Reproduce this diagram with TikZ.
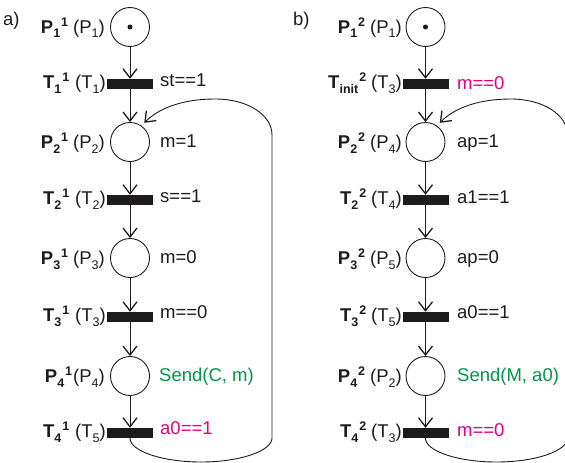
\documentclass[tikz,border=0pt]{standalone}
\usepackage{fontspec}
\setmainfont{Liberation Sans}
\usetikzlibrary{arrows.meta}
\definecolor{ink}{RGB}{30,27,28}
\definecolor{guard}{RGB}{228,0,124}
\definecolor{action}{RGB}{0,150,70}
% small lowered / raised indices placed one after the other
\newcommand\lo[1]{\raisebox{-5pt}{\fontsize{12.5}{12.5}\selectfont #1}}
\newcommand\hi[1]{\raisebox{6.5pt}{\fontsize{12.5}{12.5}\selectfont #1}}
\newcommand\sym[3]{\textbf{#1}\lo{\textbf{#2}}\hspace{1pt}\hi{\textbf{#3}}}
\newcommand\orig[2]{(#1\lo{#2})}

\begin{document}
\begin{tikzpicture}[x=1pt,y=-1pt,
  lbltext/.style={font=\fontsize{18.5}{20}\selectfont, text=ink, inner sep=0pt},
  place/.style={circle, draw=ink, line width=0.9pt, minimum size=39pt, inner sep=0pt},
  trans/.style={rectangle, fill=ink, minimum width=46pt, minimum height=10pt, inner sep=0pt},
  flow/.style={draw=ink, line width=0.9pt, -{Straight Barb[length=9pt,width=14pt,line width=1.3pt]}},
  token/.style={circle, fill=ink, minimum size=5pt, inner sep=0pt},
  tag/.style={lbltext, anchor=base east},
  note/.style={lbltext, anchor=base west},
]
\useasboundingbox (0,0) rectangle (565,463);

% ---------------- net a) ----------------
\node[lbltext, anchor=base west] (capa) at (3,25) {a)};
\node[place] (a1) at (130,27) {};
\node[token] (a1tok) at (a1) {};
\node[trans] (at1) at (130,84) {};
\node[place] (a2) at (130,142) {};
\node[trans] (at2) at (130,200) {};
\node[place] (a3) at (130,258) {};
\node[trans] (at3) at (130,317) {};
\node[place] (a4) at (130,376) {};
\node[trans] (at4) at (130,433) {};

\node[tag] (na1) at (105,33) {\sym{P}{1}{1}\hspace{5pt}\orig{P}{1}};
\node[tag] (nat1) at (106,88) {\sym{T}{1}{1}\hspace{6pt}\orig{T}{1}};
\node[tag] (na2) at (105,148) {\sym{P}{2}{1}\hspace{5pt}\orig{P}{2}};
\node[tag] (nat2) at (106,204) {\sym{T}{2}{1}\hspace{6pt}\orig{T}{2}};
\node[tag] (na3) at (105,264) {\sym{P}{3}{1}\hspace{5pt}\orig{P}{3}};
\node[tag] (nat3) at (106,321) {\sym{T}{3}{1}\hspace{6pt}\orig{T}{3}};
\node[tag] (na4) at (105,382) {\sym{P}{4}{1}\hspace{1pt}\orig{P}{4}};
\node[tag] (nat4) at (106,437) {\sym{T}{4}{1}\hspace{6pt}\orig{T}{5}};

\node[note] (ga1) at (160,86) {st==1};
\node[note] (ga2) at (160,147) {m=1};
\node[note] (ga3) at (160,202) {s==1};
\node[note] (ga4) at (160,263) {m=0};
\node[note] (ga5) at (160,318) {m==0};
\node[note, text=action] (ga6) at (159,381) {Send(C, m)};
\node[note, text=guard] (ga7) at (160,434) {a0==1};

\draw[flow] (a1) -- (at1.north);
\draw[flow] (at1.south) -- (a2);
\draw[flow] (a2) -- (at2.north);
\draw[flow] (at2.south) -- (a3);
\draw[flow] (a3) -- (at3.north);
\draw[flow] (at3.south) -- (a4);
\draw[flow] (a4) -- (at4.north);
\draw[flow, shorten >=4pt] (at4.south)
  .. controls (130,451) and (162,462) .. (201,462)
  .. controls (240,462) and (272,451) .. (272,438)
  -- (272,135)
  .. controls (272,115) and (248,99) .. (215,99)
  .. controls (185,99) and (160,107) .. (a2.55);

% ---------------- net b) ----------------
\node[lbltext, anchor=base west] (capb) at (293,25) {b)};
\node[place] (b1) at (425.5,27) {};
\node[token] (b1tok) at (b1) {};
\node[trans] (bt1) at (425.5,84) {};
\node[place] (b2) at (425.5,142) {};
\node[trans] (bt2) at (425.5,200) {};
\node[place] (b3) at (425.5,258) {};
\node[trans] (bt3) at (425.5,317) {};
\node[place] (b4) at (425.5,376) {};
\node[trans] (bt4) at (425.5,433) {};

\node[tag] (nb1) at (402,33) {\sym{P}{1}{2}\hspace{5pt}\orig{P}{1}};
\node[tag] (nbt1) at (402,88) {\sym{T}{init}{2}\hspace{5pt}\orig{T}{3}};
\node[tag] (nb2) at (402,148) {\sym{P}{2}{2}\hspace{5pt}\orig{P}{4}};
\node[tag] (nbt2) at (402,204) {\sym{T}{2}{2}\hspace{5pt}\orig{T}{4}};
\node[tag] (nb3) at (402,264) {\sym{P}{3}{2}\hspace{5pt}\orig{P}{5}};
\node[tag] (nbt3) at (402,321) {\sym{T}{3}{2}\hspace{5pt}\orig{T}{5}};
\node[tag] (nb4) at (402,382) {\sym{P}{4}{2}\hspace{5pt}\orig{P}{2}};
\node[tag] (nbt4) at (402,437) {\sym{T}{4}{2}\hspace{5pt}\orig{T}{3}};

\node[note, text=guard] (gb1) at (457,89) {m==0};
\node[note] (gb2) at (457,147) {ap=1};
\node[note] (gb3) at (457,203) {a1==1};
\node[note] (gb4) at (457,263) {ap=0};
\node[note] (gb5) at (457,318) {a0==1};
\node[note, text=action] (gb6) at (457,381) {Send(M, a0)};
\node[note, text=guard] (gb7) at (457,436) {m==0};

\draw[flow] (b1) -- (bt1.north);
\draw[flow] (bt1.south) -- (b2);
\draw[flow] (b2) -- (bt2.north);
\draw[flow] (bt2.south) -- (b3);
\draw[flow] (b3) -- (bt3.north);
\draw[flow] (bt3.south) -- (b4);
\draw[flow] (b4) -- (bt4.north);
\draw[flow, shorten >=4pt] (bt4.south)
  .. controls (425.5,451) and (457.5,462) .. (496.5,462)
  .. controls (535.5,462) and (567.5,451) .. (567.5,438)
  -- (567.5,135)
  .. controls (567.5,115) and (543.5,99) .. (510.5,99)
  .. controls (480.5,99) and (455.5,107) .. (b2.55);
\end{tikzpicture}
\end{document}
